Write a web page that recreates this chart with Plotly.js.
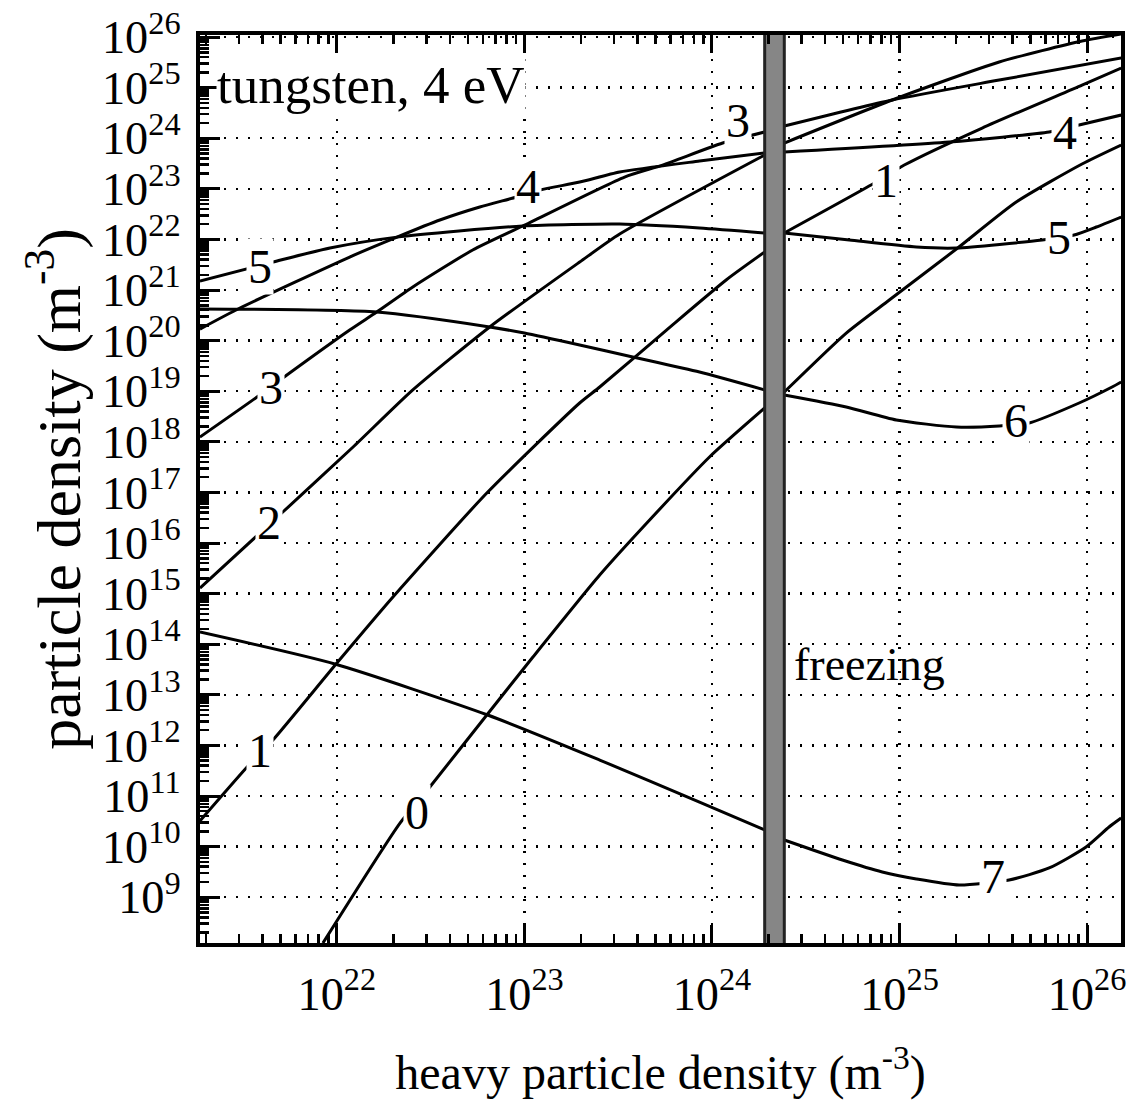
<!DOCTYPE html>
<html>
<head>
<meta charset="utf-8">
<script src="https://cdn.plot.ly/plotly-3.0.1.min.js"></script>
<style>html,body{margin:0;padding:0;background:#fff}#chart{width:1137px;height:1109px}</style>
</head>
<body>
<div id="chart"></div>
<script>
// ---- data: heavy particle density (x) vs particle density (y), m^-3 ----
// charge state 0
const c0LeftX  = [8.42e21, 2.17e22, 3.13e22, 6.30e22, 1.11e23, 2.52e23, 4.65e23, 9.70e23, 1.91e24];
const c0LeftY  = [1.24e8, 2.92e10, 1.51e11, 3.99e12, 5.58e13, 2.33e15, 2.85e16, 5.01e17, 4.66e18];
const c0RightX = [2.43e24, 5.20e24, 8.82e24, 2.01e25, 4.19e25, 9.40e25, 1.52e26];
const c0RightY = [9.64e18, 1.41e20, 6.34e20, 6.46e21, 5.49e22, 3.10e23, 7.35e23];
// charge state 1
const c1LeftX  = [1.86e21, 3.32e21, 4.56e21, 1.00e22, 1.99e22, 6.30e22, 1.97e23, 2.52e23, 5.72e23, 1.19e24, 1.91e24];
const c1LeftY  = [3.21e10, 3.74e11, 1.28e12, 4.25e13, 8.57e14, 9.73e16, 5.85e18, 1.21e19, 1.62e20, 1.58e21, 5.64e21];
const c1RightX = [2.43e24, 7.52e24, 1.06e25, 2.76e25, 9.40e25, 1.52e26];
const c1RightY = [1.34e22, 1.36e23, 2.95e23, 1.59e24, 1.12e25, 2.44e25];
// charge state 2
const c2LeftX  = [1.86e21, 5.15e21, 1.22e22, 2.54e22, 6.53e22, 1.97e23, 3.22e23, 1.91e24];
const c2LeftY  = [1.29e15, 4.10e16, 7.89e17, 1.06e19, 1.86e20, 3.57e21, 1.28e22, 4.66e23];
const c2RightX = [2.43e24, 9.14e24, 3.40e25, 9.40e25, 1.52e26];
const c2RightY = [8.04e23, 5.69e24, 3.21e25, 8.34e25, 1.15e26];
// charge state 3
const c3LeftX  = [1.86e21, 3.75e21, 5.41e21, 1.17e22, 1.63e22, 2.54e22, 5.30e22, 9.79e22, 3.42e23, 5.45e23, 1.14e24, 1.91e24];
const c3LeftY  = [1.24e18, 7.67e18, 2.09e19, 1.62e20, 3.67e20, 1.15e21, 6.18e21, 1.84e22, 1.71e23, 2.95e23, 8.04e23, 1.33e24];
const c3RightX = [2.43e24, 9.14e24, 3.40e25, 1.52e26];
const c3RightY = [1.74e24, 5.69e24, 1.41e25, 3.85e25];
// charge state 4
const c4LeftX  = [1.86e21, 3.04e21, 1.17e22, 2.09e22, 3.54e22, 5.78e22, 9.10e22, 1.21e23, 1.97e23, 3.22e23, 8.58e23, 1.91e24];
const c4LeftY  = [1.69e20, 4.41e20, 4.49e21, 1.11e22, 2.42e22, 4.37e22, 6.89e22, 9.46e22, 1.36e23, 2.15e23, 3.54e23, 5.11e23];
const c4RightX = [2.43e24, 1.84e25, 6.28e25, 9.07e25, 1.52e26];
const c4RightY = [5.33e23, 8.41e23, 1.33e24, 1.82e24, 2.87e24];
// charge state 5
const c5LeftX  = [1.86e21, 4.56e21, 9.18e21, 2.09e22, 9.79e22, 3.22e23, 8.58e23, 1.91e24];
const c5LeftY  = [1.51e21, 3.57e21, 6.76e21, 1.11e22, 1.84e22, 2.01e22, 1.68e22, 1.34e22];
const c5RightX = [2.43e24, 5.40e24, 1.23e25, 2.01e25, 5.76e25, 8.53e25, 1.12e26, 1.52e26];
const c5RightY = [1.34e22, 9.72e21, 7.08e21, 6.76e21, 9.72e21, 1.22e22, 1.76e22, 2.77e22];
// charge state 6
const c6LeftX  = [1.86e21, 1.63e22, 6.53e22, 1.00e23, 1.97e23, 3.78e23, 8.58e23, 1.91e24];
const c6LeftY  = [4.22e20, 3.67e20, 1.86e20, 1.41e20, 8.18e19, 4.74e19, 2.39e19, 1.06e19];
const c6RightX = [2.43e24, 5.20e24, 9.61e24, 2.01e25, 3.40e25, 4.91e25, 9.07e25, 1.36e26, 1.52e26];
const c6RightY = [8.41e18, 4.88e18, 2.70e18, 1.96e18, 2.05e18, 2.36e18, 5.85e18, 1.21e19, 1.52e19];
// charge state 7
const c7LeftX  = [1.86e21, 9.75e21, 6.37e22, 2.52e23, 8.58e23, 1.91e24];
const c7LeftY  = [1.74e14, 4.06e13, 3.99e12, 5.14e11, 7.60e10, 2.13e10];
const c7RightX = [2.43e24, 4.96e24, 8.09e24, 1.23e25, 2.08e25, 3.84e25, 6.28e25, 9.88e25, 1.31e26, 1.52e26];
const c7RightY = [1.35e10, 5.43e9, 3.15e9, 2.29e9, 1.74e9, 2.19e9, 3.78e9, 9.82e9, 2.44e10, 3.67e10];

// freezing band (heavy particle density)
const freezeLo = 1.91e24;
const freezeHi = 2.43e24;

// curve labels
const labelText = ['0', '1', '2', '3', '4', '5', '3', '1', '4', '5', '6', '7'];
const labelX = [2.67e22, 3.89e21, 4.35e21, 4.45e21, 1.05e23, 3.89e21, 1.37e24, 8.49e24, 7.64e25, 7.10e25, 4.19e25, 3.16e25];
const labelY = [4.83e10, 8.11e11, 2.60e16, 1.21e19, 1.09e23, 2.98e21, 2.29e24, 1.49e23, 1.27e24, 1.11e22, 2.58e18, 2.62e9];

// texts
const plotNote = 'tungsten, 4 eV';
const noteX = 1.52e22, noteY = 1.15e25;
const freezeText = 'freezing';
const freezeTextX = 6.90e24, freezeTextY = 3.9e13;

// ---- build ----
const FONT = 'Liberation Serif, Times New Roman, serif';
const series = [
  [c0LeftX, c0LeftY], [c0RightX, c0RightY],
  [c1LeftX, c1LeftY], [c1RightX, c1RightY],
  [c2LeftX, c2LeftY], [c2RightX, c2RightY],
  [c3LeftX, c3LeftY], [c3RightX, c3RightY],
  [c4LeftX, c4LeftY], [c4RightX, c4RightY],
  [c5LeftX, c5LeftY], [c5RightX, c5RightY],
  [c6LeftX, c6LeftY], [c6RightX, c6RightY],
  [c7LeftX, c7LeftY], [c7RightX, c7RightY]
];
const traces = series.map(s => ({
  x: s[0], y: s[1], type: 'scatter', mode: 'lines',
  line: {color: '#000', width: 3, shape: 'spline', smoothing: 0.6},
  hoverinfo: 'skip'
}));
traces.push({
  x: [freezeLo, freezeHi, freezeHi, freezeLo, freezeLo],
  y: [1e7, 1e7, 1e27, 1e27, 1e7],
  type: 'scatter', mode: 'lines', fill: 'toself',
  fillcolor: '#868686', line: {color: '#222', width: 3},
  hoverinfo: 'skip'
});

const annotations = labelText.map((t, i) => ({
  x: Math.log10(labelX[i]), y: Math.log10(labelY[i]), xref: 'x', yref: 'y',
  text: t, showarrow: false, bgcolor: '#fff', borderpad: 1,
  font: {family: FONT, size: 48, color: '#000'}
}));
annotations.push({
  x: Math.log10(noteX), y: Math.log10(noteY), xref: 'x', yref: 'y',
  text: plotNote, showarrow: false, bgcolor: '#fff', borderpad: 0,
  font: {family: FONT, size: 53, color: '#000'}
});
annotations.push({
  x: Math.log10(freezeTextX), y: Math.log10(freezeTextY), xref: 'x', yref: 'y',
  text: freezeText, showarrow: false, borderpad: 0,
  font: {family: FONT, size: 46, color: '#000'}
});

const axisCommon = {
  type: 'log', tickmode: 'linear', tick0: 0, dtick: 1,
  exponentformat: 'power', showexponent: 'all',
  ticks: 'inside', tickcolor: '#000', tickwidth: 3,
  showline: true, linecolor: '#000', linewidth: 4,
  showgrid: true, gridcolor: '#000', gridwidth: 2.5, griddash: '2px,10px',
  zeroline: false,
  tickfont: {family: FONT, size: 37, color: '#000'},
  minor: {dtick: 'D1', ticks: 'inside', ticklen: 9, tickwidth: 2.5, tickcolor: '#000', showgrid: false}
};

const layout = {
  width: 1137, height: 1109,
  margin: {l: 200, r: 16, t: 35, b: 166, pad: 0},
  paper_bgcolor: '#fff', plot_bgcolor: '#fff',
  showlegend: false, hovermode: false,
  xaxis: Object.assign({}, axisCommon, {
    range: [21.27, 26.181], ticklen: 18, mirror: 'allticks', ticklabelstandoff: 9,
    title: {text: 'heavy particle density (m<sup>-3</sup>)', font: {family: FONT, size: 48, color: '#000'}, standoff: 38}
  }),
  yaxis: Object.assign({}, axisCommon, {
    range: [8.095, 26.04], ticklen: 20, mirror: true, ticklabelstandoff: 8,
    title: {text: 'particle density (m<sup>-3</sup>)', font: {family: FONT, size: 62, color: '#000'}, standoff: 2}
  }),
  annotations: annotations
};

Plotly.newPlot('chart', traces, layout, {staticPlot: true, displayModeBar: false});
</script>
</body>
</html>
